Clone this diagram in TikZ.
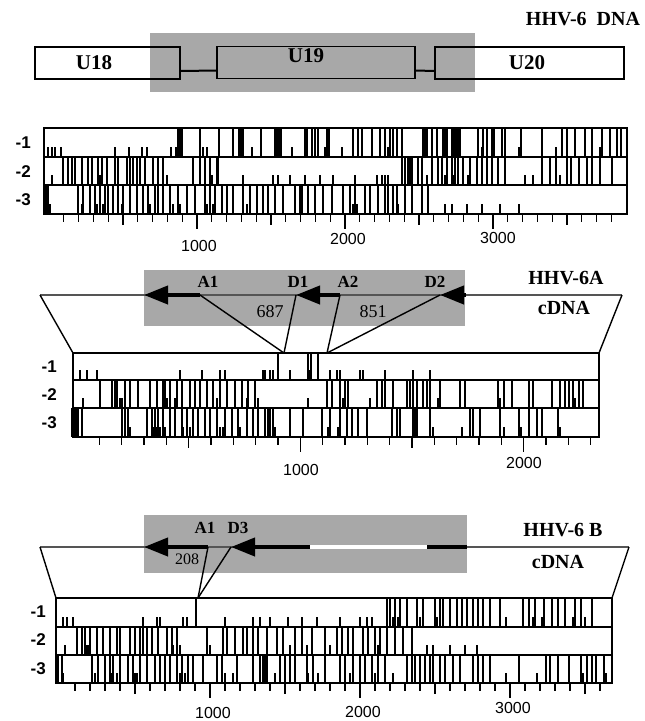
\documentclass[tikz,border=0pt]{standalone}
\usepackage{fontspec}
\setmainfont{Liberation Serif}
\setsansfont{Liberation Sans}
\usetikzlibrary{arrows.meta}
\definecolor{stipplegray}{HTML}{A8A8A8}
\definecolor{cdnagray}{HTML}{555555}

\newcommand{\orfrow}[6]{%
  \foreach \s in {#5} \draw[stopline] (\s,#3) -- (\s,#4);
  \foreach \s in {#6} \draw[stopline] (\s,#4) -- (\s,{#4-0.36*(#4-#3)});
  \draw[rowframe] (#1,#3) rectangle (#2,#4);
}
\newcommand{\bpaxis}[4]{%
  \foreach \b in {100,200,...,#4}{
    \pgfmathsetmacro\ticklen{mod(\b,1000)==0 ? 15 : (mod(\b,500)==0 ? 11 : 8)}
    \draw[tickline] ({#1+#2*\b},#3) -- ++(0,\ticklen);
  }}

\begin{document}
\begin{tikzpicture}[x=1pt,y=-1pt,
  rowframe/.style={line width=1.8pt},
  stopline/.style={line width=1.2pt},
  tickline/.style={line width=1.3pt},
  genebox/.style={draw,line width=1.6pt,inner sep=0pt,minimum height=32pt},
  genename/.style={font=\bfseries\fontsize{21}{23}\selectfont},
  title/.style={font=\bfseries\fontsize{20}{22}\selectfont,inner sep=0pt},
  site/.style={font=\bfseries\fontsize{17}{19}\selectfont,inner sep=0pt},
  span/.style={font=\fontsize{18}{20}\selectfont,inner sep=0pt},
  axisnum/.style={font=\sffamily\fontsize{16}{18}\selectfont,inner sep=0pt},
  framelabel/.style={font=\sffamily\bfseries\fontsize{17}{19}\selectfont,inner sep=0pt,anchor=east},
  cdnaline/.style={draw=cdnagray,line width=2.2pt},
  funnel/.style={line width=1.4pt},
  exon/.style={line width=4pt,-{Triangle[length=24pt,width=18pt]}},
  splice/.style={line width=1.4pt}]
\useasboundingbox (0,0) rectangle (645,721);

\fill[stipplegray] (150,33) rectangle (475,92);
\node[title] (dnatitle) at (583,19) {HHV-6\enspace DNA};
\node[genebox,minimum width=145pt] (u18) at (107.5,63) {};
\node[genebox,minimum width=198pt] (u19) at (316,62.5) {};
\node[genebox,minimum width=189pt] (u20) at (529.5,63) {};
\node[genename] (u18txt) at (94,63) {U18};
\node[genename] (u19txt) at (306,56) {U19};
\node[genename] (u20txt) at (527,63) {U20};
\draw[line width=2pt] ([yshift=-8pt]u18.east) -- ([yshift=-8pt]u19.west);
\draw[line width=2pt] ([yshift=-8pt]u19.east) -- ([yshift=-8pt]u20.west);

\orfrow{44}{627}{128}{157}{178,180,182,200,219,233,239,241,243,261,275,277,279,281,305,307,312,315,318,327,329,353,358,362,372,380,385,390,393,397,402,423,425,427,432,437,443,445,447,452,454,456,458,460,478,483,487,492,494,502,505,521,542,562,567,575,585,592,602,610,617,621}{48,52,55,61,115,129,142,147,171,176,203,207,242,252,292,307,325,342,388,457,482,519,556,600}
\orfrow{44}{627}{157}{185}{63,68,72,75,82,88,92,98,102,107,115,118,127,130,133,137,140,145,153,158,163,193,200,205,210,217,218,402,405,408,410,412,418,422,432,438,442,447,452,455,458,463,470,477,482,487,492,498,505,542,550,556,567,571,579,587,592,600,612}{52,75,100,118,167,212,243,273,278,290,305,320,333,355,377,382,385,388,412,427,445,453,468,482,525,533,560}
\orfrow{44}{627}{185}{214}{45,47,48,78,83,90,95,100,105,108,113,118,123,130,137,143,148,155,158,163,170,178,187,195,205,210,215,222,227,233,243,250,257,263,268,275,283,295,300,302,308,315,323,332,343,350,355,365,370,378,385,388,393,397,405,412,422,428}{50,82,97,103,113,122,143,150,173,180,207,210,213,227,247,353,357,397,398,445,452,467,482,500,519}
\node[framelabel] (p1f1) at (31,143) {-1};
\node[framelabel] (p1f2) at (31,172) {-2};
\node[framelabel] (p1f3) at (31,200) {-3};
\bpaxis{49}{0.148}{214}{3800}
\node[axisnum] (p1k1) at (199,246) {1000};
\node[axisnum] (p1k2) at (348,239) {2000};
\node[axisnum] (p1k3) at (498,238) {3000};

\fill[stipplegray] (144,270) rectangle (465,326);
\coordinate (h2l) at (40,295);
\coordinate (h2r) at (622,295);
\coordinate (m2l) at (73,353);
\coordinate (m2r) at (599,353);
\coordinate (t2a) at (144,295);
\coordinate (a1) at (200,295);
\coordinate (d1) at (296,295);
\coordinate (a2) at (340,295);
\coordinate (d2) at (440,295);
\coordinate (d2b) at (466,295);
\coordinate (j1) at (284,353);
\coordinate (j2) at (327,353);
\draw[cdnaline] (h2l) -- (h2r);
\draw[funnel] (h2l) -- (m2l);
\draw[funnel] (h2r) -- (m2r);
\draw[exon] (a1) -- (t2a);
\draw[exon] (a2) -- (d1);
\draw[exon] (d2b) -- (d2);
\draw[splice] (a1) -- (j1);
\draw[splice] (d1) -- (j1);
\draw[splice] (a2) -- (j2);
\draw[splice] (d2) -- (j2);
\node[site] (l2a1) at (208,282) {A1};
\node[site] (l2d1) at (298,282) {D1};
\node[site] (l2a2) at (348,282) {A2};
\node[site] (l2d2) at (435,282) {D2};
\node[span] (n687) at (270,312) {687};
\node[span] (n851) at (373,312) {851};
\node[title] (atitle) at (566,278) {HHV-6A};
\node[title] (acdna) at (564,308) {cDNA};

\orfrow{73}{599}{353}{380}{278,308,311,318}{80,87,97,180,202,220,225,263,265,270,273,290,310,330,337,340,360,363,385,413,430}
\orfrow{73}{599}{380}{408}{100,112,115,117,125,130,138,150,157,163,165,170,177,182,190,195,200,207,213,220,227,235,242,248,255,327,332,340,345,348,377,382,385,393,407,410,413,417,423,427,430,440,460,465,498,504,512,529,533,552,560,565,569,573,579,583}{83,120,122,163,167,175,217,247,258,308,343,370,413,438,500,575}
\orfrow{73}{599}{408}{437}{72,74,76,78,82,122,125,128,147,152,155,158,163,170,175,182,187,193,198,205,210,217,225,232,238,247,253,258,265,268,270,273,290,303,322,330,340,347,352,358,367,392,397,400,413,415,417,430,470,473,480,500,519,529,537,542,558}{128,130,153,157,160,165,175,183,190,220,223,240,275,328,338,340,392,397,433,462,504,521,537,560}
\node[framelabel] (p2f1) at (57,367) {-1};
\node[framelabel] (p2f2) at (57,395) {-2};
\node[framelabel] (p2f3) at (57,423) {-3};
\bpaxis{77}{0.2233}{437}{2300}
\node[axisnum] (p2k1) at (301,470) {1000};
\node[axisnum] (p2k2) at (524,463) {2000};

\fill[stipplegray] (144,515) rectangle (467,573);
\coordinate (h3l) at (40,547);
\coordinate (h3r) at (629,547);
\coordinate (m3l) at (56,598);
\coordinate (m3r) at (612,598);
\coordinate (t3a) at (144,547);
\coordinate (b1) at (208,547);
\coordinate (d3) at (231,547);
\coordinate (g1) at (310,547);
\coordinate (g2) at (427,547);
\coordinate (g3) at (467,547);
\coordinate (j3) at (198,598);
\draw[cdnaline] (h3l) -- (h3r);
\draw[funnel] (h3l) -- (m3l);
\draw[funnel] (h3r) -- (m3r);
\draw[exon] (b1) -- (t3a);
\draw[exon] (g1) -- (d3);
\draw[white,line width=3.5pt] (g1) -- (g2);
\draw[line width=4pt] (g2) -- (g3);
\draw[splice] (b1) -- (j3);
\draw[splice] (d3) -- (j3);
\node[site] (l3a1) at (205,528) {A1};
\node[site] (l3d3) at (238,528) {D3};
\node[span,font=\fontsize{16}{18}\selectfont] (n208) at (187,559) {208};
\node[title] (btitle) at (563,530) {HHV-6 B};
\node[title] (bcdna) at (558,562) {cDNA};

\orfrow{56}{612}{598}{627}{196,387,390,395,400,407,417,423,435,440,443,450,457,462,467,473,478,483,490,500,523,529,535,544,552,558,565,575,581,592}{63,67,73,143,157,160,183,187,225,253,260,270,288,302,317,340,360,367,372,393,398,420,437,440,506,533,542,573,585}
\orfrow{56}{612}{627}{655}{77,82,85,90,97,103,110,117,120,130,135,140,143,147,152,158,167,172,177,207,223,227,235,243,247,253,258,267,277,283,295,302,312,325,337,342,348,353,363,368,375,380,387,395,403,412}{65,87,88,120,140,173,180,210,290,307,330,348,378,427,433,450,465,477}
\orfrow{56}{612}{655}{683}{58,62,92,98,105,110,113,120,128,133,140,147,155,160,165,170,177,182,188,193,203,217,222,237,253,260,263,265,267,280,285,290,295,307,313,325,340,345,353,360,365,372,378,385,407,412,415,420,425,430,433,440,445,453,460,473,478,483,490,519,546,550,558,569,581,587,592,596,604}{63,95,112,117,128,135,137,147,180,185,225,233,275,295,308,318,325,350,375,393,445,460,506,537,583,606}
\node[framelabel] (p3f1) at (46,612) {-1};
\node[framelabel] (p3f2) at (46,640) {-2};
\node[framelabel] (p3f3) at (46,669) {-3};
\bpaxis{60}{0.15}{683}{3600}
\node[axisnum] (p3k1) at (213,713) {1000};
\node[axisnum] (p3k2) at (363,712) {2000};
\node[axisnum] (p3k3) at (513,708) {3000};
\end{tikzpicture}
\end{document}
